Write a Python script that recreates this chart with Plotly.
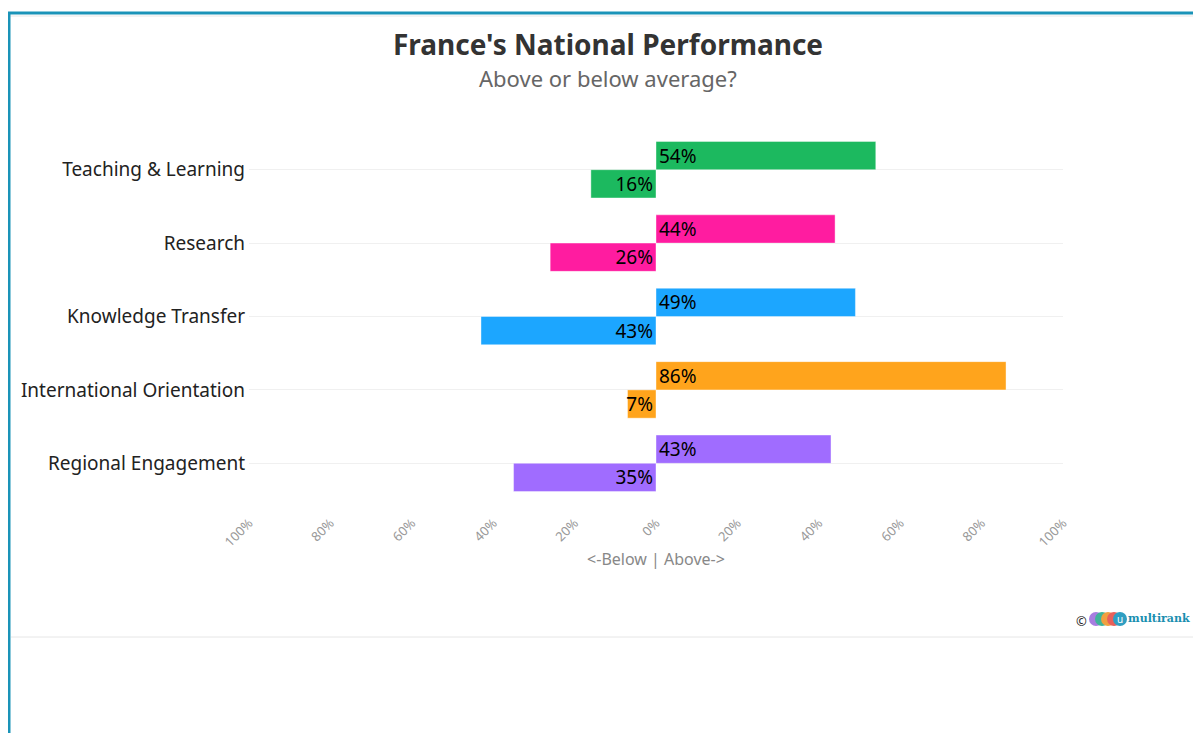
import plotly.graph_objects as go

categories = ["Teaching & Learning", "Research", "Knowledge Transfer",
              "International Orientation", "Regional Engagement"]
above = [54, 44, 49, 86, 43]
below = [16, 26, 43, 7, 35]
colors = ["#1cb95f", "#ff1ca0", "#1ca6ff", "#ffa41c", "#a06cff"]
tick_vals = [-100, -80, -60, -40, -20, 0, 20, 40, 60, 80, 100]
tick_text = ["100%", "80%", "60%", "40%", "20%", "0%", "20%", "40%", "60%", "80%", "100%"]

FONT = "Noto Sans"
W, H = 1193, 725
L, T, PW, PH = 241, 125, 814, 367

fig = go.Figure()
fig.add_trace(go.Bar(
    y=categories, x=above, orientation="h", name="Above",
    marker=dict(color=colors, line=dict(color="rgba(255,255,255,0.4)", width=1)),
    text=[f"{v}%" for v in above], textposition="inside", insidetextanchor="start",
    textfont=dict(color="black", size=19, family=FONT),
    hovertemplate="%{y}: %{text}<extra>Above</extra>",
))
fig.add_trace(go.Bar(
    y=categories, x=[-v for v in below], orientation="h", name="Below",
    marker=dict(color=colors, line=dict(color="rgba(255,255,255,0.4)", width=1)),
    text=[f"{v}%" for v in below], textposition="inside", insidetextanchor="start",
    textfont=dict(color="black", size=19, family=FONT),
    hovertemplate="%{y}: %{text}<extra>Below</extra>",
))


def px(x):
    return (x - 249) / PW


def py(y):
    return (499 - y) / PH


# frame lines and logo (paper coordinates)
shapes = [
    dict(type="line", xref="paper", yref="paper", x0=px(8), x1=px(1220), y0=py(12), y1=py(12),
         line=dict(color="#1a93b8", width=3)),
    dict(type="line", xref="paper", yref="paper", x0=px(10), x1=px(1220), y0=py(15), y1=py(15),
         line=dict(color="#e6e6e6", width=1)),
    dict(type="line", xref="paper", yref="paper", x0=px(9), x1=px(9), y0=py(11), y1=py(760),
         line=dict(color="#1a93b8", width=3)),
    dict(type="line", xref="paper", yref="paper", x0=px(11), x1=px(1220), y0=py(636), y1=py(636),
         line=dict(color="#e6e6e6", width=1)),
]
logo_colors = ["#a77de0", "#3fb39a", "#f0a040", "#e8605a", "#2f9ec2"]
for i, c in enumerate(logo_colors):
    cx = 1096 + i * 6
    shapes.append(dict(type="circle", xref="paper", yref="paper",
                       x0=px(cx - 7), x1=px(cx + 7),
                       y0=py(625), y1=py(611),
                       fillcolor=c, line=dict(width=0)))

fig.update_layout(
    width=W, height=H,
    barmode="overlay",
    showlegend=False,
    paper_bgcolor="white", plot_bgcolor="white",
    margin=dict(l=L, r=W - L - PW, t=T, b=H - T - PH),
    font=dict(family=FONT, color="#222"),
    title=dict(
        text="<b>France's National Performance</b>",
        x=600 / W, xanchor="center", xref="container", y=1 - 37 / H, yanchor="middle",
        font=dict(size=28, color="#333333", family=FONT),
    ),
    uniformtext=dict(minsize=19, mode="show"),
    shapes=shapes,
    annotations=[
        dict(text="Above or below average?", xref="paper", yref="paper",
             x=px(607.5), y=py(77), xanchor="center", yanchor="middle",
             showarrow=False, font=dict(size=22, color="#666666", family=FONT)),
        dict(text="©", xref="paper", yref="paper", x=px(1081), y=py(620),
             xanchor="center", yanchor="middle", showarrow=False,
             font=dict(size=13, color="#222", family=FONT)),
        dict(text="u", xref="paper", yref="paper", x=px(1120), y=py(618),
             xanchor="center", yanchor="middle", showarrow=False,
             font=dict(size=10, color="white", family=FONT)),
        dict(text="<b>multirank</b>", xref="paper", yref="paper", x=px(1126),
             y=py(617), xanchor="left", yanchor="middle", showarrow=False,
             font=dict(size=11, color="#1a8fb0", family="DejaVu Serif")),
    ],
)
fig.update_traces(width=0.385)
fig.data[0].update(offset=-0.385)
fig.data[1].update(offset=0.0)

fig.update_xaxes(
    range=[-100, 100], tickvals=tick_vals, ticktext=tick_text, tickangle=-45,
    tickfont=dict(size=13, color="#999999", family=FONT),
    showgrid=False, zeroline=False, showline=False, ticks="",
    ticklabelstandoff=12,
    title=dict(text="<-Below | Above->", font=dict(size=16, color="#888888", family=FONT),
               standoff=4),
    fixedrange=True,
)
fig.update_yaxes(
    autorange="reversed", showgrid=True, gridcolor="#f0f0f0", gridwidth=1,
    tickfont=dict(size=19, color="#222222", family=FONT), ticks="",
    ticklabelstandoff=3, fixedrange=True,
)

fig.write_html("out.html")
